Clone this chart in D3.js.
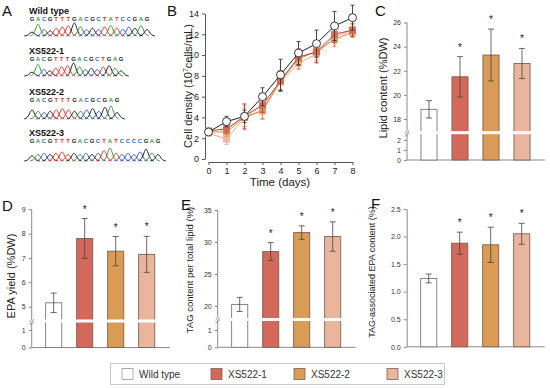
<!DOCTYPE html>
<html>
<head>
<meta charset="utf-8">
<script src="https://cdn.jsdelivr.net/npm/d3@7"></script>
<style>
  body { margin: 0; background: #fff; }
  svg { font-family: Arial, "Liberation Sans", sans-serif; }
</style>
</head>
<body>
<script>
const width = 550;
const height = 388;

// ---- data ----
const strains = ["Wild type", "XS522-1", "XS522-2", "XS522-3"];
const significant = [false, true, true, true];

// panel A: sequences and rough peak heights
const seqLabels = ["Wild type", "XS522-1", "XS522-2", "XS522-3"];
const sequences = [
  "GACGTTTGACGCTATCCGAG",
  "GACGTTTGACGCTGAG",
  "GACGTTTGACGCGAG",
  "GACGTTTGACGCTATCCCCGAG",
];
const peakHeights = [
  [0.3, 0.9, 0.5, 0.4, 0.6, 0.7, 0.8, 1.0, 0.7, 0.5, 0.6, 0.5, 0.7, 0.8, 0.6, 0.5, 0.7, 0.6, 0.8, 0.5],
  [0.3, 0.9, 0.5, 0.4, 0.6, 0.7, 0.8, 1.0, 0.7, 0.5, 0.6, 0.5, 0.7, 0.8, 0.6, 0.4],
  [0.7, 0.6, 0.5, 0.6, 0.7, 0.8, 0.7, 0.6, 0.6, 0.7, 0.8, 0.6, 0.9, 1.0, 0.5],
  [0.4, 0.5, 0.6, 0.5, 0.6, 0.7, 0.5, 0.6, 0.5, 0.6, 0.5, 0.6, 0.8, 1.0, 0.6, 0.5, 0.6, 0.5, 0.7, 0.9, 0.6, 0.5],
];

// panel B: growth curves
const days = [0, 1, 2, 3, 4, 5, 6, 7, 8];
const growthWT = [2.6, 3.6, 4.1, 6.0, 8.1, 10.2, 11.1, 12.8, 13.6];
const growthWTErr = [0.2, 0.5, 0.6, 0.85, 1.5, 1.1, 1.3, 1.4, 1.2];
const growth1 = [2.7, 2.9, 4.1, 5.2, 7.5, 9.8, 10.3, 12.0, 12.4];
const growth1Err = [0.2, 0.4, 1.2, 0.7, 1.0, 0.8, 1.0, 0.8, 0.6];
const growth2 = [2.6, 2.6, 4.0, 4.7, 7.6, 9.6, 10.4, 11.5, 12.2];
const growth2Err = [0.2, 0.4, 0.9, 0.8, 0.9, 0.9, 0.9, 0.7, 0.5];
const growth3 = [2.5, 1.9, 4.0, 4.6, 7.4, 9.2, 10.1, 11.7, 12.4];
const growth3Err = [0.2, 0.5, 1.2, 0.8, 0.8, 0.6, 0.9, 0.7, 0.6];

// panels C-F
const lipid = [18.8, 21.5, 23.3, 22.6];
const lipidErr = [0.72, 1.67, 2.15, 1.25];
const epaYield = [5.16, 7.8, 7.28, 7.15];
const epaYieldErr = [0.4, 0.82, 0.6, 0.74];
const tagContent = [20.25, 28.5, 31.47, 30.85];
const tagContentErr = [1.1, 1.4, 1.05, 2.3];
const tagEpa = [1.24, 1.88, 1.85, 2.05];
const tagEpaErr = [0.08, 0.2, 0.32, 0.19];

// ---- styles ----
const fills = ["#ffffff", "#d4685a", "#d99b55", "#e9b59c"];
const lineColors = ["#222", "#c0392b", "#e0893a", "#f0a889"];
const baseColors = { G: "#222", A: "#3a9a3a", C: "#3a5ec8", T: "#e03a2a" };
const axisColor = "#8a8a8a";

const svg = d3.select("body").append("svg")
  .attr("width", width)
  .attr("height", height);

function panelLetter(t, x, y) {
  svg.append("text").attr("x", x).attr("y", y)
    .attr("font-size", 15).attr("fill", "#111").text(t);
}

// ---------- A ----------
function panelA() {
  panelLetter("A", 2, 16);
  const rows = [
    { label: 14, seq: 21, base: 36, x1: 147 },
    { label: 54, seq: 61, base: 76, x1: 121 },
    { label: 95, seq: 102, base: 119, x1: 117 },
    { label: 136, seq: 143, base: 161, x1: 158 },
  ];
  const shape = [[-1.3, 0], [-0.7, 0.12], [-0.35, 0.6], [0, 1], [0.35, 0.6], [0.7, 0.12], [1.3, 0]];
  const line = d3.line().curve(d3.curveBasis);
  sequences.forEach((s, k) => {
    const r = rows[k];
    const letters = s.split("");
    const x = d3.scaleLinear().domain([0, letters.length - 1]).range([32, r.x1]);
    const step = x(1) - x(0);
    const g = svg.append("g");
    g.append("text").attr("x", 29).attr("y", r.label)
      .attr("font-size", 9).attr("font-weight", "bold").attr("fill", "#111")
      .text(seqLabels[k]);
    g.selectAll("text.b").data(letters).enter().append("text")
      .attr("class", "b")
      .attr("x", (_, i) => x(i))
      .attr("y", r.seq)
      .attr("text-anchor", "middle")
      .attr("font-size", 6)
      .attr("font-weight", "bold")
      .attr("fill", (d) => baseColors[d])
      .text((d) => d);
    g.selectAll("path").data(letters).enter().append("path")
      .attr("d", (d, i) => line(shape.map(([dx, f]) =>
        [x(i) + dx * step, r.base - f * 15 * peakHeights[k][i]])))
      .attr("fill", "none")
      .attr("stroke", (d) => baseColors[d])
      .attr("stroke-width", 1);
  });
}

// ---------- B ----------
function panelB() {
  panelLetter("B", 167, 16);
  const x = d3.scaleLinear().domain([0, 8]).range([208.5, 352.5]);
  const y = d3.scaleLinear().domain([0, 14]).range([159, 13.5]);
  const g = svg.append("g");
  const xa = g.append("g").attr("transform", "translate(0,162)")
    .call(d3.axisBottom(x).ticks(8).tickSize(3).tickSizeOuter(0));
  const ya = g.append("g").attr("transform", "translate(205,0)")
    .call(d3.axisLeft(y).tickValues(d3.range(0, 15, 2)).tickSize(3).tickSizeOuter(0));
  [xa, ya].forEach((a) => {
    a.selectAll("path,line").attr("stroke", "#555");
    a.selectAll("text").attr("font-size", 9).attr("fill", "#222");
  });
  g.append("text").attr("x", 280).attr("y", 186).attr("text-anchor", "middle")
    .attr("font-size", 11.5).attr("fill", "#222").text("Time (days)");
  const yl = g.append("text")
    .attr("transform", "translate(192,86) rotate(-90)")
    .attr("text-anchor", "middle").attr("font-size", 11).attr("fill", "#222");
  yl.append("tspan").text("Cell density (10");
  yl.append("tspan").attr("dy", -4).attr("font-size", 7).text("7");
  yl.append("tspan").attr("dy", 4).text("cells/mL)");

  const series = [
    { v: growth3, e: growth3Err, k: 3 },
    { v: growth2, e: growth2Err, k: 2 },
    { v: growth1, e: growth1Err, k: 1 },
    { v: growthWT, e: growthWTErr, k: 0 },
  ];
  const line = d3.line().x((d) => x(d.day)).y((d) => y(d.v));
  series.forEach((s) => {
    const pts = days.map((d, i) => ({ day: d, v: s.v[i], e: s.e[i] }));
    const sg = g.append("g");
    const c = lineColors[s.k];
    const errs = sg.selectAll("g.err").data(pts).enter().append("g")
      .attr("stroke", s.k === 0 ? "#333" : c).attr("stroke-width", 0.9);
    errs.append("line")
      .attr("x1", (d) => x(d.day)).attr("x2", (d) => x(d.day))
      .attr("y1", (d) => y(d.v + d.e)).attr("y2", (d) => y(d.v - d.e));
    errs.append("line")
      .attr("x1", (d) => x(d.day) - 2).attr("x2", (d) => x(d.day) + 2)
      .attr("y1", (d) => y(d.v + d.e)).attr("y2", (d) => y(d.v + d.e));
    errs.append("line")
      .attr("x1", (d) => x(d.day) - 2).attr("x2", (d) => x(d.day) + 2)
      .attr("y1", (d) => y(d.v - d.e)).attr("y2", (d) => y(d.v - d.e));
    sg.append("path").datum(pts).attr("d", line)
      .attr("fill", "none").attr("stroke", c).attr("stroke-width", 1);
    if (s.k === 0) {
      sg.selectAll("circle").data(pts).enter().append("circle")
        .attr("cx", (d) => x(d.day)).attr("cy", (d) => y(d.v)).attr("r", 4)
        .attr("fill", "#fff").attr("stroke", "#222").attr("stroke-width", 0.9);
    } else {
      sg.selectAll("rect").data(pts).enter().append("rect")
        .attr("x", (d) => x(d.day) - 3.5).attr("y", (d) => y(d.v) - 3.5)
        .attr("width", 7).attr("height", 7)
        .attr("fill", fills[s.k]).attr("opacity", 0.9);
    }
  });
}

// ---------- bar panels ----------
function barPanel(o) {
  const g = svg.append("g");
  panelLetter(o.letter, o.lx, o.ly);
  const x = d3.scaleBand().domain(strains)
    .range([o.ax + 6.5, o.ax + 130.5]).paddingInner(0.48).paddingOuter(0.24);
  const up = d3.scaleLinear().domain(o.upDomain).range(o.upRange);
  const low = o.lowDomain ? d3.scaleLinear().domain(o.lowDomain).range(o.lowRange) : null;
  const bottom = low ? low(0) : up(0);

  // axes
  const ya = g.append("g").attr("transform", `translate(${o.ax},0)`)
    .call(d3.axisLeft(up).tickValues(o.upTicks).tickSize(3).tickSizeOuter(0)
      .tickFormat(o.fmt || d3.format("d")));
  if (low) {
    ya.select("path").attr("d", `M0,${o.brk - 2}V${o.upRange[1]}`);
    const la = g.append("g").attr("transform", `translate(${o.ax},0)`)
      .call(d3.axisLeft(low).tickValues(o.lowTicks).tickSize(3).tickSizeOuter(0)
        .tickFormat(d3.format("d")));
    la.select("path").attr("d", `M0,${bottom}V${o.brk + 2}`);
    la.selectAll("path,line").attr("stroke", axisColor);
    la.selectAll("text").attr("font-size", 7).attr("fill", "#333");
    g.append("path")
      .attr("d", `M${o.ax - 2},${o.brk + 1}l2,-3M${o.ax - 2},${o.brk + 4}l4,-6M${o.ax},${o.brk + 3}l2,-3`)
      .attr("stroke", axisColor).attr("stroke-width", 0.8).attr("fill", "none");
  }
  ya.selectAll("path,line").attr("stroke", axisColor);
  ya.selectAll("text").attr("font-size", 7).attr("fill", "#333");
  g.append("line").attr("x1", o.ax).attr("x2", o.ax + 138)
    .attr("y1", bottom).attr("y2", bottom).attr("stroke", axisColor);

  const data = strains.map((s, i) => ({ s, i, v: o.values[i], e: o.errs[i] }));
  g.selectAll("rect.bar").data(data).enter().append("rect")
    .attr("class", "bar")
    .attr("x", (d) => x(d.s)).attr("width", x.bandwidth())
    .attr("y", (d) => up(d.v)).attr("height", (d) => bottom - up(d.v))
    .attr("fill", (d) => fills[d.i])
    .attr("stroke", (d) => (d.i === 0 ? "#777" : "#7d6256"))
    .attr("stroke-width", 0.9);
  if (low) {
    g.selectAll("rect.gap").data(data).enter().append("rect")
      .attr("class", "gap")
      .attr("x", (d) => x(d.s) - 1).attr("width", x.bandwidth() + 2)
      .attr("y", o.brk - 1.5).attr("height", 3)
      .attr("fill", "#fff");
  }
  const cx = (d) => x(d.s) + x.bandwidth() / 2;
  const eg = g.selectAll("g.err").data(data).enter().append("g")
    .attr("stroke", "#444").attr("stroke-width", 0.8);
  eg.append("line").attr("x1", cx).attr("x2", cx)
    .attr("y1", (d) => up(d.v + d.e)).attr("y2", (d) => up(d.v - d.e));
  eg.append("line").attr("x1", (d) => cx(d) - 3).attr("x2", (d) => cx(d) + 3)
    .attr("y1", (d) => up(d.v + d.e)).attr("y2", (d) => up(d.v + d.e));
  eg.append("line").attr("x1", (d) => cx(d) - 3).attr("x2", (d) => cx(d) + 3)
    .attr("y1", (d) => up(d.v - d.e)).attr("y2", (d) => up(d.v - d.e));
  g.selectAll("text.star").data(data.filter((d) => significant[d.i])).enter()
    .append("text").attr("class", "star")
    .attr("x", cx).attr("y", (d) => up(d.v + d.e) - 6)
    .attr("text-anchor", "middle").attr("font-size", 10).attr("fill", "#222")
    .text("*");
  g.append("text")
    .attr("transform", `translate(${o.tx},${o.ty}) rotate(-90)`)
    .attr("text-anchor", "middle").attr("font-size", o.tsize).attr("fill", "#222")
    .text(o.title);
}

function legend() {
  const g = svg.append("g");
  g.append("rect").attr("x", 110.5).attr("y", 363.5).attr("width", 334).attr("height", 21)
    .attr("fill", "#fff").attr("stroke", "#c8c8c8");
  const xs = [122, 211, 294, 387];
  const items = g.selectAll("g.item").data(strains).enter().append("g")
    .attr("transform", (_, i) => `translate(${xs[i]},368.5)`);
  items.append("rect").attr("width", 11).attr("height", 11)
    .attr("fill", (_, i) => fills[i])
    .attr("stroke", (_, i) => (i === 0 ? "#999" : "#7d6256")).attr("stroke-width", 0.8);
  items.append("text").attr("x", 17).attr("y", 9.5)
    .attr("font-size", 10).attr("fill", "#333").text((d) => d);
}

panelA();
panelB();
barPanel({
  letter: "C", lx: 375, ly: 16, ax: 407,
  upDomain: [18, 26], upRange: [119, 22.5], upTicks: [18, 20, 22, 24, 26],
  lowDomain: [0, 2], lowRange: [160, 140], lowTicks: [0, 1, 2], brk: 132.7,
  values: lipid, errs: lipidErr,
  title: "Lipid content (%DW)", tx: 387, ty: 88, tsize: 11,
});
barPanel({
  letter: "D", lx: 2, ly: 211, ax: 31.7,
  upDomain: [5, 9], upRange: [306.7, 209.3], upTicks: [5, 6, 7, 8, 9],
  lowDomain: [0, 1], lowRange: [347.5, 330], lowTicks: [0, 1], brk: 321,
  values: epaYield, errs: epaYieldErr,
  title: "EPA yield (%DW)", tx: 15, ty: 276, tsize: 11,
});
barPanel({
  letter: "E", lx: 181, ly: 210, ax: 217.7,
  upDomain: [20, 35], upRange: [306, 210], upTicks: [20, 25, 30, 35],
  lowDomain: [0, 1], lowRange: [347.3, 330], lowTicks: [0, 1], brk: 319.5,
  values: tagContent, errs: tagContentErr,
  title: "TAG content per total lipid (%)", tx: 193, ty: 270, tsize: 9.5,
});
barPanel({
  letter: "F", lx: 371, ly: 209, ax: 406.7,
  upDomain: [0, 2.5], upRange: [346.8, 209], upTicks: [0, 0.5, 1, 1.5, 2, 2.5],
  fmt: d3.format(".1f"),
  values: tagEpa, errs: tagEpaErr,
  title: "TAG-associated EPA content (%)", tx: 375, ty: 272, tsize: 9,
});
legend();
</script>
</body>
</html>
